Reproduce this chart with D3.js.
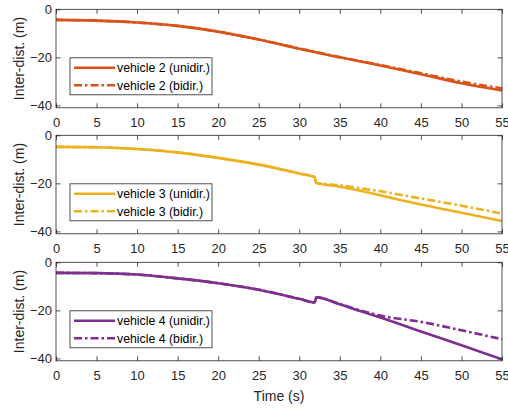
<!DOCTYPE html>
<html>
<head>
<meta charset="utf-8">
<script src="https://cdn.jsdelivr.net/npm/d3@7"></script>
<style>
  body { margin: 0; background: #fff; }
  svg { display: block; font-family: "Liberation Sans", Arial, Helvetica, sans-serif; }
</style>
</head>
<body>
<div id="chart"></div>
<script>
// time samples (s), shared by every series
var timeS = [0, 5, 10, 15, 20, 25, 30, 31.9, 32.1, 35, 37.5, 40, 45, 50, 55];

// inter-vehicle distance (m)
var veh2Uni = [-4.4, -4.7, -5.5, -6.9, -9.3, -12.6, -16.4, -17.8, -17.95, -20.0, -21.7, -23.4, -27.0, -30.8, -33.8];
var veh2Bi  = [-4.4, -4.7, -5.5, -6.9, -9.3, -12.6, -16.3, -17.7, -17.85, -19.9, -21.5, -23.2, -26.6, -30.1, -32.9];
var veh3Uni = [-4.8, -5.0, -5.7, -7.1, -9.4, -12.2, -15.9, -17.4, -19.8, -21.4, -23.1, -25.0, -28.8, -32.2, -35.7];
var veh3Bi  = [-4.8, -5.0, -5.7, -7.1, -9.4, -12.2, -15.9, -17.4, -19.8, -20.8, -22.0, -23.3, -26.3, -29.3, -32.6];
var veh4Uni = [-4.4, -4.5, -5.1, -6.7, -8.7, -11.4, -15.2, -16.7, -14.6, -17.5, -20.3, -23.0, -28.8, -34.5, -40.4];
var veh4Bi  = [-4.4, -4.5, -5.1, -6.7, -8.7, -11.4, -15.2, -16.7, -14.6, -17.4, -20.0, -22.2, -24.8, -28.3, -32.0];

var xTicks = [0, 5, 10, 15, 20, 25, 30, 35, 40, 45, 50, 55];
var yTicks = [0, -20, -40];
var vehicleNames = ["vehicle 2", "vehicle 3", "vehicle 4"];
var vehicleColors = ["#D95319", "#EDB120", "#7E2F8E"];

var panels = [
    { name: vehicleNames[0], color: vehicleColors[0], uni: veh2Uni, bi: veh2Bi },
    { name: vehicleNames[1], color: vehicleColors[1], uni: veh3Uni, bi: veh3Bi },
    { name: vehicleNames[2], color: vehicleColors[2], uni: veh4Uni, bi: veh4Bi }
];

var width = 508, height = 409;
var left = 56, right = 502;
var tops = [9.3, 135.3, 262.3];
var plotH = 98.5;

var svg = d3.select("#chart").append("svg")
    .attr("width", width)
    .attr("height", height);

var x = d3.scaleLinear().domain([0, 55]).range([left, right]);

var line = d3.line()
    .x(function (d) { return x(d[0]); })
    .y(function (d) { return d[2](d[1]); })
    .curve(d3.curveMonotoneX);

var dashDot = "8,3,2.5,3";
var axisColor = "#262626";

panels.forEach(function (p, i) {
    var top = tops[i];
    var y = d3.scaleLinear().domain([-41, 0]).range([top + plotH, top]);

    var g = svg.append("g");

    g.append("clipPath").attr("id", "clip" + i)
        .append("rect")
        .attr("x", left).attr("y", top)
        .attr("width", right - left).attr("height", plotH);

    var uniPts = timeS.map(function (t, k) { return [t, p.uni[k], y]; });
    var biPts = timeS.map(function (t, k) { return [t, p.bi[k], y]; });

    g.append("path")
        .attr("clip-path", "url(#clip" + i + ")")
        .attr("d", line(biPts))
        .attr("fill", "none")
        .attr("stroke", p.color)
        .attr("stroke-width", 2.6)
        .attr("stroke-dasharray", dashDot);

    g.append("path")
        .attr("clip-path", "url(#clip" + i + ")")
        .attr("d", line(uniPts))
        .attr("fill", "none")
        .attr("stroke", p.color)
        .attr("stroke-width", 2.6);

    // axes with inward ticks on all four sides
    g.append("g")
        .attr("transform", "translate(0," + (top + plotH) + ")")
        .call(d3.axisBottom(x).tickValues(xTicks).tickSize(-4.5).tickPadding(10.4));
    g.append("g")
        .attr("transform", "translate(0," + top + ")")
        .call(d3.axisTop(x).tickValues(xTicks).tickSize(-4.5).tickFormat(""));
    g.append("g")
        .attr("transform", "translate(" + left + ",0)")
        .call(d3.axisLeft(y).tickValues(yTicks).tickSize(-4.5).tickPadding(4));
    g.append("g")
        .attr("transform", "translate(" + right + ",0)")
        .call(d3.axisRight(y).tickValues(yTicks).tickSize(-4.5).tickFormat(""));

    g.selectAll(".domain").remove();
    g.selectAll(".tick line").attr("stroke", axisColor).attr("stroke-width", 0.8);
    g.selectAll(".tick text")
        .attr("fill", axisColor)
        .style("font-size", "13px")
        .style("font-family", "'Liberation Sans', Arial, sans-serif");

    g.append("rect")
        .attr("x", left).attr("y", top)
        .attr("width", right - left).attr("height", plotH)
        .attr("fill", "none")
        .attr("stroke", axisColor)
        .attr("stroke-width", 0.8);

    // y label
    g.append("text")
        .attr("transform", "translate(23.5," + (top + plotH / 2) + ") rotate(-90)")
        .attr("text-anchor", "middle")
        .attr("fill", axisColor)
        .style("font-size", "14px")
        .text("Inter-dist. (m)");

    // legend
    var lx = left + 14, ly = top + 48.5;
    var legend = g.append("g");
    legend.append("rect")
        .attr("x", lx).attr("y", ly)
        .attr("width", 142).attr("height", 37)
        .attr("fill", "#fff")
        .attr("stroke", axisColor)
        .attr("stroke-width", 0.8);
    var rows = [
        { label: p.name + " (unidir.)", dash: null, dy: 10 },
        { label: p.name + " (bidir.)", dash: dashDot, dy: 27.5 }
    ];
    rows.forEach(function (r) {
        legend.append("line")
            .attr("x1", lx + 4).attr("x2", lx + 45)
            .attr("y1", ly + r.dy).attr("y2", ly + r.dy)
            .attr("stroke", p.color)
            .attr("stroke-width", 2.6)
            .attr("stroke-dasharray", r.dash);
        legend.append("text")
            .attr("x", lx + 47)
            .attr("y", ly + r.dy)
            .attr("dy", "0.35em")
            .attr("fill", "#000")
            .style("font-size", "12.3px")
            .text(r.label);
    });
});

svg.append("text")
    .attr("x", (left + right) / 2)
    .attr("y", 401)
    .attr("text-anchor", "middle")
    .attr("fill", axisColor)
    .style("font-size", "14px")
    .text("Time (s)");
</script>
</body>
</html>
